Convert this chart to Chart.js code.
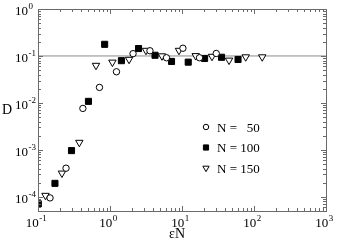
<!DOCTYPE html>
<html><head><meta charset="utf-8">
<script src="https://cdn.jsdelivr.net/npm/chart.js@4.4.0/dist/chart.umd.min.js"></script>
<style>html,body{margin:0;padding:0;background:#fff}canvas{display:block}</style>
</head><body><canvas id="c" width="337" height="243"></canvas>
<script>
/* ===== Data ===== */
const n50X  = [0.147,0.245,0.42,0.714,1.23,2.09,3.59,6.09,10.3,17.5,29.9];
const n50Y  = [9.5e-5,4.08e-4,7.64e-3,0.0214,0.0461,0.112,0.129,0.0916,0.146,0.0916,0.113];
const n100X = [0.101,0.172,0.292,0.502,0.843,1.44,2.49,4.22,7.15,12.2,20.6,35.4,60];
const n100Y = [7.1e-5,1.94e-4,9.66e-4,0.0108,0.177,0.0794,0.144,0.1035,0.0764,0.0738,0.0885,0.0938,0.0843];
const n150X = [0.127,0.215,0.375,0.639,1.08,1.84,3.16,5.27,9.08,15.5,26.1,45,76.7,130];
const n150Y = [1.07e-4,3.19e-4,1.44e-3,0.0628,0.0734,0.0843,0.131,0.1,0.131,0.101,0.0976,0.081,0.0953,0.0953];
const plateauD = 0.1;
const xRange = [0.1, 1000];
const yRange = [5e-5, 1];
const seriesNames = ['N =   50','N = 100','N = 150'];
const xDecades = [-1,0,1,2,3];
const yDecades = [-4,-3,-2,-1,0];

/* ===== Helpers ===== */
const pts = (xs,ys)=>xs.map((x,i)=>({x, y:ys[i]}));
const SERIF = '"Liberation Serif","DejaVu Serif",serif';
const AXIS = '#6a6a6a';
const marker = [
  {pointStyle:'circle',   radius:3.2, rotation:0,   bg:'#fff', border:'#000'},
  {pointStyle:'rect',     radius:4.3, rotation:0,   bg:'#000', border:'#000'},
  {pointStyle:'triangle', radius:4.3, rotation:180, bg:'#fff', border:'#000'}
];
function supLabel(ctx, exp, x, y, align){
  const base='10', sup=String(exp);
  ctx.font='13px '+SERIF; const wb=ctx.measureText(base).width;
  ctx.font='9px '+SERIF;  const ws=ctx.measureText(sup).width;
  let x0 = align==='left' ? x : x-(wb+ws)/2;
  ctx.textAlign='left'; ctx.textBaseline='alphabetic';
  ctx.font='13px '+SERIF; ctx.fillText(base, x0, y);
  ctx.font='9px '+SERIF;  ctx.fillText(sup, x0+wb+0.5, y-6);
}

/* ===== Frame, ticks, labels, legend ===== */
const frame = {
  id:'frame',
  afterDraw(chart){
    const {ctx, chartArea:a, scales:{x,y}} = chart;
    ctx.save();
    ctx.strokeStyle=AXIS; ctx.lineWidth=1;
    ctx.strokeRect(a.left+0.5, a.top+0.5, a.right-a.left, a.bottom-a.top);
    ctx.beginPath();
    for(let d=-1; d<=2; d++) for(let m=1; m<=10; m++){
      const v=m*Math.pow(10,d); if(v<xRange[0]||v>xRange[1]) continue;
      const px=Math.round(x.getPixelForValue(v))+0.5, L=(m===1||m===10)?5:3;
      ctx.moveTo(px,a.bottom); ctx.lineTo(px,a.bottom-L);
      ctx.moveTo(px,a.top);    ctx.lineTo(px,a.top+L);
    }
    for(let d=-5; d<=-1; d++) for(let m=1; m<=10; m++){
      const v=m*Math.pow(10,d); if(v<yRange[0]||v>yRange[1]) continue;
      const py=Math.round(y.getPixelForValue(v))+0.5, L=(m===1||m===10)?5:3;
      ctx.moveTo(a.left,py);  ctx.lineTo(a.left+L,py);
      ctx.moveTo(a.right,py); ctx.lineTo(a.right-L,py);
    }
    ctx.stroke();
    ctx.fillStyle='#000';
    xDecades.forEach(d=>supLabel(ctx, d, x.getPixelForValue(Math.pow(10,d))-2, 227, 'center'));
    yDecades.forEach(d=>supLabel(ctx, d, 15, y.getPixelForValue(Math.pow(10,d))+6, 'left'));
    ctx.font='14px '+SERIF; ctx.textAlign='left';
    ctx.fillText('D', 2, 114);
    ctx.textAlign='center'; ctx.fillText('\u03b5N', 177, 238);
    // legend
    seriesNames.forEach((name,i)=>{
      const yy=127+i*20.5, mk=marker[i];
      ctx.fillStyle=mk.bg; ctx.strokeStyle=mk.border; ctx.lineWidth=1;
      Chart.helpers.drawPoint(ctx,{pointStyle:mk.pointStyle,radius:mk.radius*0.85,rotation:mk.rotation,borderWidth:1},206,yy);
      ctx.fillStyle='#000'; ctx.font='13px '+SERIF; ctx.textAlign='left';
      ctx.fillText(name, 217, yy+4.5);
    });
    ctx.restore();
  }
};

const sets = [pts(n50X,n50Y), pts(n100X,n100Y), pts(n150X,n150Y)].map((data,i)=>({
  label:seriesNames[i], data, showLine:false,
  pointStyle:marker[i].pointStyle, pointRadius:marker[i].radius, pointRotation:marker[i].rotation,
  pointBackgroundColor:marker[i].bg, pointBorderColor:marker[i].border, pointBorderWidth:1, order:1
}));
sets.push({label:'plateau', data:[{x:xRange[0],y:plateauD},{x:xRange[1],y:plateauD}],
  showLine:true, borderColor:'#8c8c8c', borderWidth:1, pointRadius:0, order:5});

new Chart(document.getElementById('c'), {
  type:'scatter',
  data:{datasets:sets},
  plugins:[frame],
  options:{
    responsive:false, animation:false, devicePixelRatio:1,
    layout:{padding:{left:38, top:9, right:11, bottom:32}},
    plugins:{legend:{display:false}, tooltip:{enabled:false}},
    scales:{
      x:{type:'logarithmic', min:xRange[0], max:xRange[1], display:false},
      y:{type:'logarithmic', min:yRange[0], max:yRange[1], display:false}
    }
  }
});
</script></body></html>
